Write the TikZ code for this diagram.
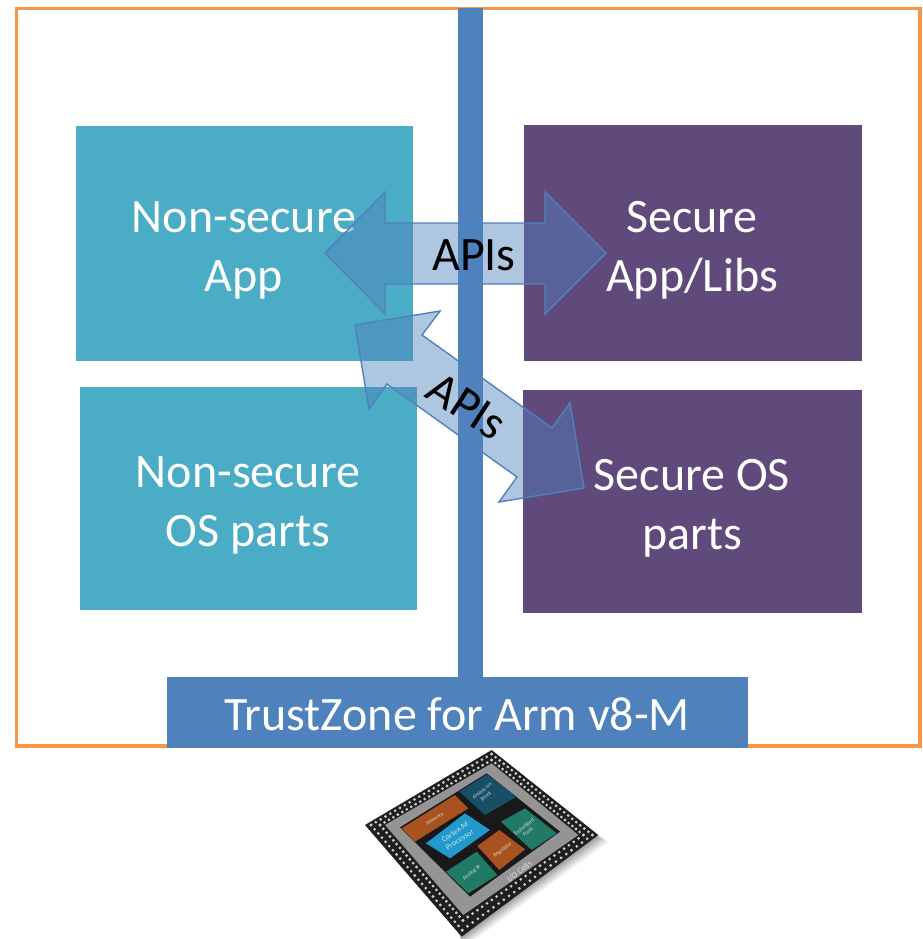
\documentclass[tikz,border=0pt]{standalone}
\usepackage{fontspec}
\setmainfont{Carlito}
\usetikzlibrary{calc}
\definecolor{frameor}{HTML}{F79646}
\definecolor{barblue}{HTML}{4F81BD}
\definecolor{tealbox}{HTML}{4BACC6}
\definecolor{purpbox}{HTML}{604A7B}
\definecolor{chipor}{HTML}{A8521F}
\definecolor{chipdk}{HTML}{164F66}
\definecolor{chipcy}{HTML}{2299CC}
\definecolor{chipgn}{HTML}{217A66}
\tikzset{
  zonebox/.style={anchor=north west,inner sep=0pt,outer sep=0pt},
  zonetext/.style={align=center,text=white,inner sep=0pt,font=\fontsize{48}{59}\selectfont},
  blockarrow/.style={fill=barblue,fill opacity=.45,draw=barblue,draw opacity=1,line width=1.4pt,line join=miter},
  apilabel/.style={inner sep=0pt,text=black,font=\fontsize{48}{58}\selectfont},
  chiplabel/.style={inner sep=0pt,text=white,align=center,text opacity=.75,font=\fontsize{5.5}{6.5}\selectfont},
  pin/.style={fill=white!80!black,draw=none}
}
\begin{document}
\begin{tikzpicture}[x=1pt,y=-1pt]
\useasboundingbox (0,0) rectangle (922,939);
\fill[white] (0,0) rectangle (922,939);
\draw[frameor,line width=3.4pt] (16.5,8.5) rectangle (920,746);
\node[zonebox,fill=tealbox,minimum width=337pt,minimum height=235pt] (nsapp) at (76,126) {};
\node[zonetext] (nsapptext) at (244,250) {Non-secure\\App};
\node[zonebox,fill=tealbox,minimum width=337pt,minimum height=223pt] (nsos) at (80,387) {};
\node[zonetext] (nsostext) at (248,505) {Non-secure\\OS parts};
\node[zonebox,fill=purpbox,minimum width=338pt,minimum height=236pt] (sapp) at (524,125) {};
\node[zonetext] (sapptext) at (692,250) {Secure\\App/Libs};
\node[zonebox,fill=purpbox,minimum width=339pt,minimum height=223pt] (sos) at (523,390) {};
\node[zonetext] (sostext) at (692,508) {Secure OS\\parts};
% block arrows
\path[blockarrow] (325,253) -- (385,192) -- (385,223) -- (545,223) -- (545,192) -- (606,253) -- (545,314) -- (545,284) -- (385,284) -- (385,314) -- cycle;
\path[blockarrow] (355,325) -- (440,311) -- (422,335) -- (552,428) -- (570,403) -- (584,488) -- (499,502) -- (517,477) -- (387,384) -- (369,409) -- cycle;
% bar
\node[fill=barblue,inner sep=0pt,outer sep=0pt,anchor=north west,minimum width=25pt,minimum height=672pt] (bar) at (458,8) {};
\node[zonebox,fill=barblue,minimum width=581pt,minimum height=71pt] (tz) at (167,677) {};
\node[zonetext] (tztext) at (457,714) {TrustZone for Arm v8-M};
\node[apilabel] (api1) at (474,255) {APIs};
\node[apilabel,rotate=-33] (api2) at (467,406) {APIs};
% chip
\begin{scope}[shift={(340,740)},x=.33333pt,y=-.33333pt]
  \coordinate (o1) at (455,30); \coordinate (o2) at (775,285); \coordinate (o3) at (365,590); \coordinate (o4) at (75,255);
  \coordinate (g1) at (455,70); \coordinate (g2) at (715,285); \coordinate (g3) at (370,525); \coordinate (g4) at (135,255);
  \foreach \d/\o in {40/.06,32/.07,24/.08,16/.09,8/.1}{
    \fill[black,opacity=\o] (500,180) -- ($(o2)+(\d*.8,\d*.5)$) -- ($(o3)+(\d*.1,\d*.85)$) -- (300,400) -- cycle;
  }
  \fill[black!88] (o1) -- (o2) -- (o3) -- (o4) -- cycle;
  \fill[black!42] (g1) -- (g2) -- (g3) -- (g4) -- cycle;
  \fill[black!90] (440,100) -- (660,275) -- (390,470) -- (180,262) -- cycle;
  \foreach \a/\b/\oa/\ob in {g1/g2/o1/o2,g2/g3/o2/o3,g3/g4/o3/o4,g4/g1/o4/o1}{
    \foreach \r in {.25,.7}{
      \foreach \t in {0,.04,...,1}{
        \fill[pin] ($($(\a)!\t!(\b)$)!\r!($(\oa)!\t!(\ob)$)$) circle[radius=4.6];
      }
    }
  }
  \fill[chipor] (185,265) -- (345,165) -- (385,205) -- (225,305) -- cycle;
  \fill[chipdk] (358,155) -- (440,103) -- (530,170) -- (435,225) -- cycle;
  \fill[chipcy] (258,310) -- (375,220) -- (450,270) -- (330,355) -- cycle;
  \fill[chipor] (412,318) -- (478,270) -- (555,328) -- (478,390) -- cycle;
  \fill[chipgn] (483,245) -- (555,205) -- (650,280) -- (575,330) -- cycle;
  \fill[chipgn] (318,395) -- (410,335) -- (472,405) -- (385,460) -- cycle;
  \node[chiplabel,rotate=32] (cmem) at (285,237) {Memory};
  \node[chiplabel,rotate=38] (cao) at (432,160) {Always-on\\Block};
  \node[chiplabel,rotate=33,font=\fontsize{8}{9}\selectfont] (ccm) at (352,288) {Cortex-M\\Processor};
  \node[chiplabel,rotate=36] (creg) at (488,330) {Regulator};
  \node[chiplabel,rotate=38] (cfl) at (558,268) {Embedded\\Flash};
  \node[chiplabel,rotate=38] (can) at (395,398) {Analog IP};
  \node[chiplabel,rotate=38,font=\fontsize{8.5}{10}\selectfont] (cio) at (538,395) {I/O Cells};
\end{scope}
\end{tikzpicture}
\end{document}
